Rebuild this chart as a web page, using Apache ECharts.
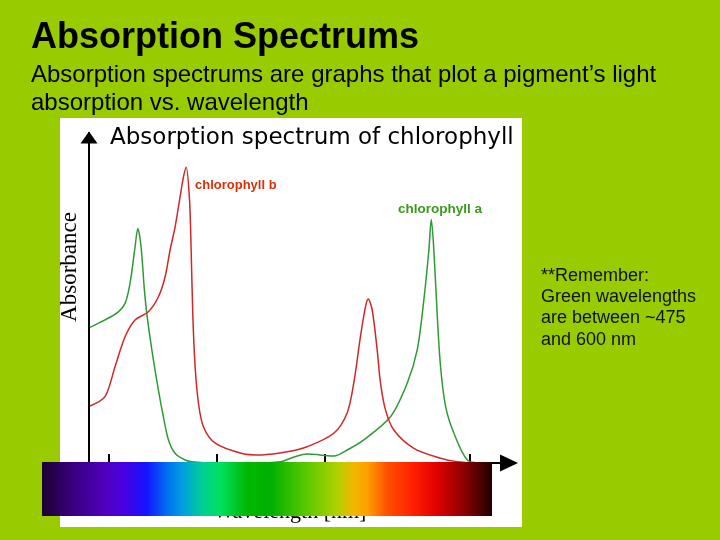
<!DOCTYPE html>
<html><head><meta charset="utf-8">
<script src="https://cdn.jsdelivr.net/npm/echarts@6/dist/echarts.min.js"></script>
<style>html,body{margin:0;padding:0;background:#99cc00}#c{width:720px;height:540px}</style>
</head><body><div id="c"></div><script>
// Chlorophyll a (green curve): wavelength (nm) and relative absorbance
const wavelengthA = [383,396.8,409.2,415.4,420.0,424.7,427.2,430.2,433.3,435.5,440.2,446.3,450.9,455.6,461.8,471.1,477.3,500,530,559.2,572,584.0,596,608.7,622,636.5,661.2,676.7,686.0,692.1,696.8,699.0,701.4,704.6,707.6,712.3,720.0,732.4,745];
const absorbanceA = [0.452,0.477,0.504,0.532,0.599,0.721,0.782,0.721,0.577,0.499,0.377,0.243,0.154,0.077,0.032,0.010,0.004,0.0,0.0,0.004,0.020,0.030,0.027,0.023,0.045,0.077,0.154,0.266,0.377,0.543,0.710,0.812,0.710,0.488,0.321,0.188,0.099,0.010,0.0];
// Chlorophyll b (red curve)
const wavelengthB = [383,396.8,406.1,415.4,424.7,437.0,446.3,452.5,457.1,461.8,466.4,469.5,472.0,475.1,476.6,478.2,480.3,483.4,488.0,498.9,523.7,542.2,566.9,584.0,608.7,621.0,627.2,633.4,638.1,640.6,644.3,648.9,652.0,656.6,664.3,682.9,707.6,723.1,740];
const absorbanceB = [0.190,0.221,0.321,0.421,0.477,0.504,0.554,0.621,0.710,0.788,0.888,0.954,0.986,0.877,0.710,0.488,0.321,0.199,0.121,0.066,0.032,0.027,0.038,0.054,0.099,0.166,0.266,0.421,0.521,0.547,0.510,0.377,0.266,0.177,0.110,0.049,0.016,0.004,0.0];
// x-axis tick positions (nm)
const tickValues = [400,500,600,735];
// visible spectrum colour bar
const spectrumOffsets = [0,0.069,0.144,0.18,0.233,0.278,0.313,0.358,0.396,0.456,0.507,0.58,0.656,0.691,0.722,0.767,0.824,0.878,0.936,1];
const spectrumColors = ['#1a0030','#3a0080','#5000c0','#4a00e0','#1414ff','#0070f0','#00a0e0','#00d090','#00e060','#00b800','#00b000','#50c800','#b0d000','#f0b800','#ffa000','#ff5000','#ff2000','#e00000','#900000','#200000'];

const zip = (xs, ys) => xs.map((x, i) => [x, ys[i]]);
const chart = echarts.init(document.getElementById('c'), null, {renderer: 'canvas'});
chart.setOption({
  backgroundColor: '#99cc00',
  animation: false,
  grid: {left: 89, right: 211, top: 133, bottom: 77},
  xAxis: {
    type: 'value', min: 382, max: 771,
    axisLine: {show: true, lineStyle: {color: '#000', width: 2}, symbol: ['none', 'triangle'], symbolSize: [17, 18], symbolOffset: [0, 0]},
    axisTick: {show: true, inside: true, length: 9, lineStyle: {color: '#000', width: 2}, customValues: tickValues},
    axisLabel: {show: false},
    splitLine: {show: false}
  },
  yAxis: {
    type: 'value', min: 0, max: 1.1,
    axisLine: {show: true, lineStyle: {color: '#000', width: 2}, symbol: ['none', 'triangle'], symbolSize: [17, 12], symbolOffset: [0, -4.5]},
    axisTick: {show: false}, axisLabel: {show: false}, splitLine: {show: false}
  },
  series: [
    {type: 'line', name: 'chlorophyll a', data: zip(wavelengthA, absorbanceA), showSymbol: false, smooth: 0.3,
     lineStyle: {color: '#2f9a35', width: 1.5}, z: 3},
    {type: 'line', name: 'chlorophyll b', data: zip(wavelengthB, absorbanceB), showSymbol: false, smooth: 0.3,
     lineStyle: {color: '#d02828', width: 1.5}, z: 3}
  ],
  graphic: [
    {type: 'rect', z: -1, shape: {x: 60, y: 118, width: 462, height: 409}, style: {fill: '#ffffff'}},
    {type: 'text', z: 10, x: 31, y: 38, style: {text: 'Absorption Spectrums', font: "bold 36px 'Liberation Sans'", fill: '#000', align: 'left', verticalAlign: 'middle'}},
    {type: 'text', z: 10, x: 31, y: 75, style: {text: 'Absorption spectrums are graphs that plot a pigment\u2019s light', font: "24px 'Liberation Sans'", fill: '#000', align: 'left', verticalAlign: 'middle'}},
    {type: 'text', z: 10, x: 31, y: 103, style: {text: 'absorption vs. wavelength', font: "24px 'Liberation Sans'", fill: '#000', align: 'left', verticalAlign: 'middle'}},
    {type: 'text', z: 10, x: 110, y: 138, style: {text: 'Absorption spectrum of chlorophyll', font: "23px 'DejaVu Sans'", fill: '#000', align: 'left', verticalAlign: 'middle'}},
    {type: 'text', z: 10, x: 70, y: 267, rotation: Math.PI / 2, style: {text: 'Absorbance', font: "23px 'Liberation Serif'", fill: '#000', align: 'center', verticalAlign: 'middle'}},
    {type: 'text', z: 10, x: 195, y: 185, style: {text: 'chlorophyll b', font: "bold 13px 'Liberation Sans'", fill: '#d8320c', align: 'left', verticalAlign: 'middle'}},
    {type: 'text', z: 10, x: 398, y: 209, style: {text: 'chlorophyll a', font: "bold 13.5px 'Liberation Sans'", fill: '#3a9a1a', align: 'left', verticalAlign: 'middle'}},
    {type: 'text', z: 10, x: 290, y: 512, style: {text: 'Wavelength [nm]', font: "22px 'Liberation Serif'", fill: '#000', align: 'center', verticalAlign: 'middle'}},
    {type: 'rect', z: 100, shape: {x: 42, y: 462, width: 450, height: 54},
     style: {fill: {type: 'linear', x: 0, y: 0, x2: 1, y2: 0, colorStops: spectrumOffsets.map((o, i) => ({offset: o, color: spectrumColors[i]}))}}},
    {type: 'text', z: 10, x: 541, y: 265, style: {text: '**Remember:\nGreen wavelengths\nare between ~475\nand 600 nm', font: "18px 'Liberation Sans'", lineHeight: 21.3, fill: '#111', align: 'left', verticalAlign: 'top'}}
  ]
});
</script></body></html>
